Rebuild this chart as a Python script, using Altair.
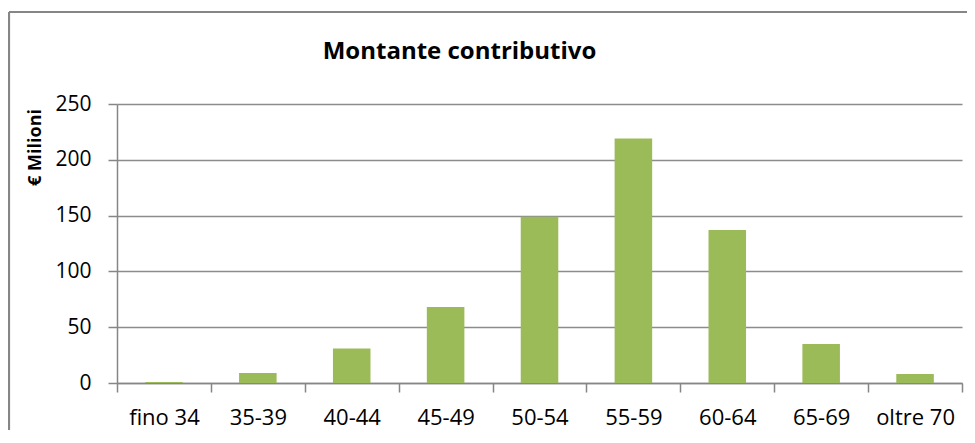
import altair as alt
import pandas as pd

categories = ["fino 34", "35-39", "40-44", "45-49", "50-54", "55-59", "60-64", "65-69", "oltre 70"]
values = [0.8, 9, 31, 68, 149, 219, 137, 35, 8]
y_ticks = [0, 50, 100, 150, 200, 250]

df = pd.DataFrame({"fascia": categories, "valore": values})

W, H = 845, 279
PAD = {"left": 109, "top": 96, "right": 5, "bottom": 47}
GRAY = "#868686"
FONT = "Open Sans"

bars = alt.Chart(df).mark_bar(color="#9BBB59", width=alt.RelativeBandSize(0.4)).encode(
    x=alt.X("fascia:N", sort=categories,
            scale=alt.Scale(paddingInner=0, paddingOuter=0),
            axis=alt.Axis(title=None, labelAngle=0, tickBand="extent", grid=False,
                          domainColor=GRAY, domainWidth=1.5, tickColor=GRAY, tickWidth=1.5,
                          tickSize=9, labelPadding=15, labelFont=FONT, labelFontSize=22,
                          labelColor="black")),
    y=alt.Y("valore:Q", scale=alt.Scale(domain=[0, 250], nice=False),
            axis=alt.Axis(values=y_ticks, title="€ Milioni", titleFont=FONT,
                          titleFontSize=18, titleFontWeight="bold", titleColor="black",
                          titleX=-82, titleY=43, titleAngle=270, titleAlign="center",
                          titleBaseline="middle",
                          grid=True, gridColor="#8c8c8c", gridWidth=1.3,
                          domainColor=GRAY, domainWidth=1.5, tickColor=GRAY, tickWidth=1.5,
                          tickSize=9, labelPadding=17, labelFont=FONT, labelFontSize=21,
                          labelColor="black")),
)

frame_data = alt.Data(values=[{"k": 0}])
left_border = alt.Chart(frame_data).mark_rule(color=GRAY, strokeWidth=2.2).encode(
    x=alt.value(-108), y=alt.value(-92), y2=alt.value(H + PAD["bottom"]))
top_border = alt.Chart(frame_data).mark_rule(color=GRAY, strokeWidth=2.2).encode(
    x=alt.value(-108), x2=alt.value(W + PAD["right"]), y=alt.value(-92))

chart = alt.layer(bars, left_border, top_border).properties(
    width=W, height=H,
    padding=PAD,
    autosize=alt.AutoSizeParams(type="none"),
    background="white",
    title=alt.TitleParams("Montante contributivo", font=FONT, fontSize=24,
                          fontWeight="bold", color="black", anchor="middle",
                          frame="group", dx=-80, offset=-72, baseline="alphabetic"),
).configure_view(stroke=None)

chart.save("out.html", embed_options={"renderer": "svg", "actions": False})
